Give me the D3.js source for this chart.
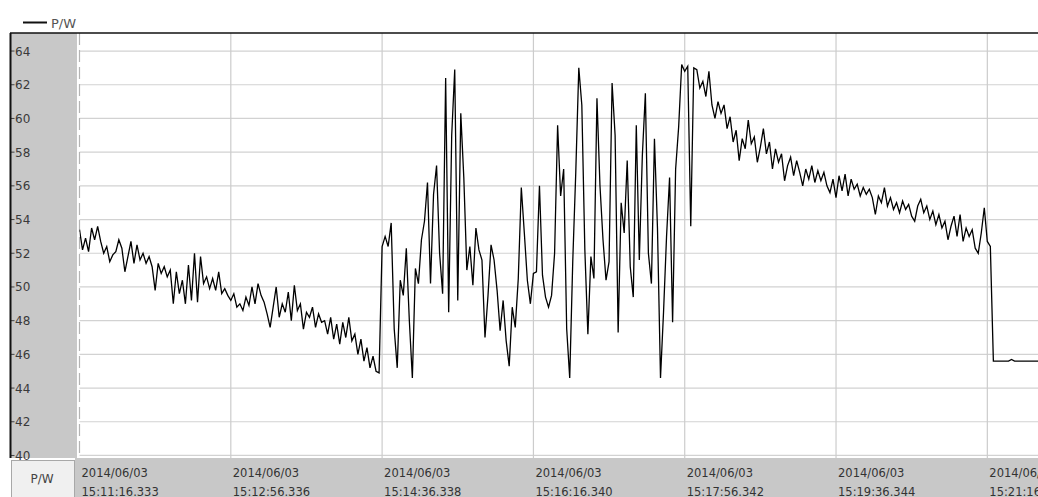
<!DOCTYPE html>
<html>
<head>
<meta charset="utf-8">
<script src="https://cdn.jsdelivr.net/npm/d3@7"></script>
<style>
  body { margin: 0; background: #fff; overflow: hidden; }
  text { font-family: "DejaVu Sans", sans-serif; }
</style>
</head>
<body>
<div id="chart"></div>
<script>
// P/W trace, one sample every 2 s from the first tick

const svgWidth = 1038;
const svgHeight = 497;
const plot = { left: 79.5, right: 1038, top: 33, bottom: 458 };

const seriesName = "P/W";
const tickDate = "2014/06/03";
const tickTimes = ["15:11:16.333", "15:12:56.336", "15:14:36.338", "15:16:16.340",
                   "15:17:56.342", "15:19:36.344", "15:21:16.346"];
const yTicks = [40, 42, 44, 46, 48, 50, 52, 54, 56, 58, 60, 62, 64];
const sampleStep = 2; // seconds
const spanSeconds = 633.5;

const power = [
  53.4, 52.2, 52.9, 52.1, 53.5, 52.8, 53.6, 52.7, 52.0, 52.4,
  51.5, 51.9, 52.1, 52.8, 52.3, 50.9, 51.8, 52.7, 51.4, 52.5,
  51.6, 52.0, 51.4, 51.8, 51.2, 49.8, 51.4, 50.8, 51.2, 50.6,
  51.0, 49.0, 50.9, 49.6, 50.4, 49.0, 51.3, 49.2, 52.0, 49.1,
  51.8, 50.2, 50.6, 49.9, 50.5, 49.8, 50.9, 49.6, 49.9, 49.5,
  49.2, 49.6, 48.8, 49.0, 48.6, 49.4, 48.9, 50.0, 49.0, 50.2,
  49.5, 49.1, 48.4, 47.6, 48.8, 50.0, 48.2, 49.0, 48.5, 49.7,
  48.0, 50.1, 48.6, 49.0, 47.5, 48.5, 48.2, 48.8, 47.6, 48.4,
  47.9, 48.0, 47.2, 48.2, 46.9, 47.8, 46.6, 47.9, 47.0, 48.2,
  46.8, 47.2, 46.0, 46.9, 45.6, 46.4, 45.2, 45.9, 45.0, 44.9,
  // 15:14:36 - the unsettled part
  52.4, 53.0, 52.4, 53.8, 47.5, 45.2, 50.4, 49.5, 52.3, 48.0,
  44.6, 51.1, 50.2, 52.8, 53.9, 56.2, 50.2, 55.5, 57.2, 52.0,
  49.6, 62.4, 48.5, 59.0, 62.9, 49.2, 60.3, 56.5, 51.0, 52.4,
  50.1, 53.5, 52.2, 51.6, 47.0, 49.5, 52.5, 51.6, 49.8, 47.4,
  49.2, 46.8, 45.3, 48.8, 47.6, 50.5, 55.9, 53.2, 50.4, 49.0,
  50.8, 50.9, 56.0, 50.7, 49.4, 48.8, 49.5, 52.0, 59.6, 55.4,
  57.0, 47.5, 44.6, 51.5, 56.8, 63.0, 60.8, 52.2, 47.2, 51.8,
  50.5, 61.2, 56.0, 52.8, 50.4, 51.5, 62.1, 59.0, 47.3, 55.0,
  53.2, 57.5, 51.2, 49.4, 59.6, 51.6, 57.8, 61.5, 52.0, 50.2,
  58.8, 53.5, 44.6, 48.5, 53.0, 56.5, 47.9, 57.0, 59.5, 63.2,
  // 15:17:56 - slow decay
  62.8, 63.1, 53.6, 63.0, 62.9, 61.8, 62.2, 61.3, 62.8, 60.8,
  60.0, 61.0, 60.3, 60.8, 59.4, 60.1, 58.6, 59.3, 57.5, 58.8,
  58.2, 59.9, 58.5, 58.9, 57.4, 58.3, 59.4, 57.9, 58.6, 57.0,
  58.2, 57.4, 57.9, 56.3, 57.2, 57.7, 56.6, 57.5, 56.8, 56.0,
  57.0, 56.4, 57.2, 56.2, 56.9, 56.3, 56.8, 56.0, 55.6, 56.4,
  55.3, 56.6, 55.7, 56.7, 55.4, 56.4, 55.8, 56.1, 55.4, 55.9,
  55.5, 55.8, 55.3, 54.3, 55.4, 55.0, 55.9, 54.8, 55.3, 54.6,
  55.0, 54.4, 55.1, 54.6, 54.9, 54.2, 53.9, 54.8, 55.2, 54.4,
  54.8, 54.0, 54.5, 53.7, 54.3, 53.5, 53.9, 52.8, 53.6, 54.2,
  53.0, 54.3, 52.7, 53.5, 53.0, 53.4, 52.3, 52.0, 53.2, 54.7,
  52.7, 52.4, 45.6, 45.6, 45.6, 45.6, 45.6, 45.6, 45.7, 45.6,
  45.6, 45.6, 45.6, 45.6, 45.6, 45.6, 45.6, 45.6, 45.6
];

const parseTime = d3.timeParse("%Y/%m/%d %H:%M:%S.%L");
const tickDates = tickTimes.map(t => parseTime(tickDate + " " + t));
const start = tickDates[0];

const data = power.map((v, i) => ({ t: new Date(+start + i * sampleStep * 1000), v: v }));

const svg = d3.select("#chart")
    .append("svg")
    .attr("width", svgWidth)
    .attr("height", svgHeight);

const xScale = d3.scaleTime()
    .domain([start, new Date(+start + spanSeconds * 1000)])
    .range([plot.left, plot.right]);

const yScale = d3.scaleLinear()
    .domain([39.85, 65.07])
    .range([plot.bottom, plot.top]);

// legend
svg.append("line")
    .attr("x1", 23).attr("x2", 47)
    .attr("y1", 22.5).attr("y2", 22.5)
    .attr("stroke", "#111")
    .attr("stroke-width", 2);
svg.append("text")
    .attr("x", 51).attr("y", 27.5)
    .attr("font-size", 13)
    .attr("fill", "#555")
    .text(seriesName);

// left value panel
svg.append("rect")
    .attr("x", 11).attr("y", plot.top)
    .attr("width", 66).attr("height", plot.bottom - plot.top)
    .attr("fill", "#c8c8c8");

// horizontal grid
svg.append("g")
    .selectAll("line")
    .data(yTicks)
    .enter()
    .append("line")
    .attr("x1", plot.left).attr("x2", plot.right)
    .attr("y1", d => yScale(d)).attr("y2", d => yScale(d))
    .attr("stroke", "#d2d2d2")
    .attr("stroke-width", 1.2);

// vertical grid
svg.append("g")
    .selectAll("line")
    .data(tickDates)
    .enter()
    .append("line")
    .attr("x1", d => xScale(d)).attr("x2", d => xScale(d))
    .attr("y1", plot.top).attr("y2", plot.bottom)
    .attr("stroke", (d, i) => i === 0 ? "#b4b4b4" : "#cccccc")
    .attr("stroke-width", 1.2)
    .attr("stroke-dasharray", (d, i) => i === 0 ? "12,5" : null);

// y labels
const yLab = svg.append("g");
yLab.selectAll("line")
    .data(yTicks)
    .enter()
    .append("line")
    .attr("x1", 11).attr("x2", 14.5)
    .attr("y1", d => yScale(d)).attr("y2", d => yScale(d))
    .attr("stroke", "#444");
yLab.selectAll("text")
    .data(yTicks)
    .enter()
    .append("text")
    .attr("x", 15)
    .attr("y", d => yScale(d) + 4.5)
    .attr("font-size", 12)
    .attr("fill", "#3a3a3a")
    .text(d => d);

// the trace
svg.append("clipPath")
    .attr("id", "plotClip")
    .append("rect")
    .attr("x", plot.left).attr("y", plot.top)
    .attr("width", plot.right - plot.left).attr("height", plot.bottom - plot.top);

const line = d3.line()
    .x(d => xScale(d.t))
    .y(d => yScale(d.v));

svg.append("path")
    .datum(data)
    .attr("clip-path", "url(#plotClip)")
    .attr("fill", "none")
    .attr("stroke", "#000")
    .attr("stroke-width", 1.3)
    .attr("stroke-linejoin", "miter")
    .attr("d", line);

// frame lines
svg.append("line")
    .attr("x1", 10).attr("x2", svgWidth)
    .attr("y1", plot.top).attr("y2", plot.top)
    .attr("stroke", "#111").attr("stroke-width", 1.6);
svg.append("line")
    .attr("x1", 10.5).attr("x2", 10.5)
    .attr("y1", plot.top).attr("y2", plot.bottom)
    .attr("stroke", "#111").attr("stroke-width", 2);

// bottom time panel
svg.append("rect")
    .attr("x", 75).attr("y", plot.bottom)
    .attr("width", svgWidth - 75).attr("height", svgHeight - plot.bottom)
    .attr("fill", "#c8c8c8");
svg.append("rect")
    .attr("x", 11.5).attr("y", 460.5)
    .attr("width", 63).attr("height", 40)
    .attr("fill", "#f0f0f0")
    .attr("stroke", "#a8a8a8");
svg.append("text")
    .attr("x", 42).attr("y", 483)
    .attr("text-anchor", "middle")
    .attr("font-size", 12)
    .attr("fill", "#444")
    .text(seriesName);

const xLab = svg.append("g")
    .selectAll("text")
    .data(tickDates)
    .enter()
    .append("text")
    .attr("x", d => xScale(d) + 2)
    .attr("font-size", 11.5)
    .attr("fill", "#333");
xLab.append("tspan").attr("y", 477).text(tickDate);
xLab.append("tspan")
    .attr("x", d => xScale(d) + 2)
    .attr("y", 495.5)
    .text((d, i) => tickTimes[i]);
</script>
</body>
</html>
